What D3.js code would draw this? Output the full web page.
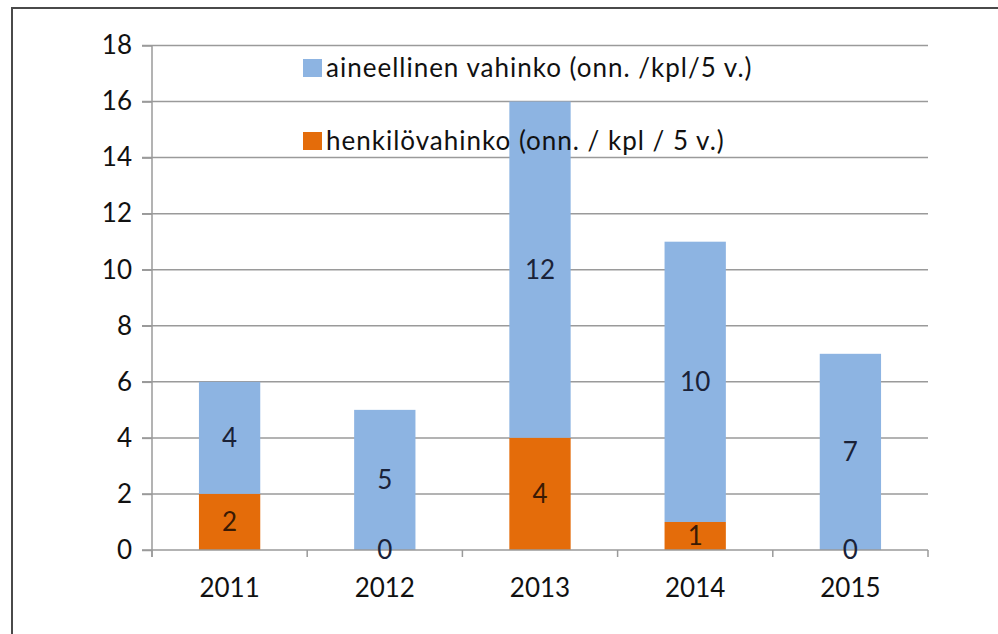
<!DOCTYPE html>
<html>
<head>
<meta charset="utf-8">
<script src="https://cdn.jsdelivr.net/npm/d3@7"></script>
<style>
  html, body { margin: 0; padding: 0; background: #fff; }
  svg { display: block; }
  text { font-family: Lato, "Open Sans", sans-serif; }
</style>
</head>
<body>
<div id="chart"></div>
<script>
// data
var years = ["2011", "2012", "2013", "2014", "2015"];
var henkilo = [2, 0, 4, 1, 0];        // orange, bottom
var aineellinen = [4, 5, 12, 10, 7];  // blue, top
var yTicks = [0, 2, 4, 6, 8, 10, 12, 14, 16, 18];
var seriesNames = ["aineellinen vahinko (onn. /kpl/5 v.)", "henkilövahinko (onn. / kpl / 5 v.)"];

var W = 998, H = 634;
var pLeft = 152, pRight = 928, pTop = 45.5, pBottom = 550;
var blue = "#8db4e2", orange = "#e46c0a";
var gridCol = "#9a9a9a";

var svg = d3.select("#chart").append("svg")
  .attr("width", W)
  .attr("height", H);

// outer frame (only top and left visible)
svg.append("path")
  .attr("d", "M12,634 L12,8 L998,8")
  .attr("fill", "none")
  .attr("stroke", "#4a4a4a")
  .attr("stroke-width", 2);

var x = d3.scaleBand().domain(years).range([pLeft, pRight]).paddingInner(0).paddingOuter(0);
var y = d3.scaleLinear().domain([0, 18]).range([pBottom, pTop]);
var barW = x.bandwidth() * 0.395;

// grid lines
svg.append("g").selectAll("line")
  .data(yTicks.filter(function(d) { return d > 0; }))
  .enter().append("line")
  .attr("x1", pLeft - 10).attr("x2", pRight)
  .attr("y1", function(d) { return y(d); })
  .attr("y2", function(d) { return y(d); })
  .attr("stroke", gridCol)
  .attr("stroke-width", 1.5);

// stacked bars
var stack = years.map(function(yr, i) {
  return { year: yr, h: henkilo[i], a: aineellinen[i] };
});

var bars = svg.append("g");
bars.selectAll("rect.a")
  .data(stack).enter().append("rect")
  .attr("x", function(d) { return x(d.year) + (x.bandwidth() - barW) / 2; })
  .attr("width", barW)
  .attr("y", function(d) { return y(d.h + d.a); })
  .attr("height", function(d) { return y(d.h) - y(d.h + d.a); })
  .attr("fill", blue);

bars.selectAll("rect.h")
  .data(stack).enter().append("rect")
  .attr("x", function(d) { return x(d.year) + (x.bandwidth() - barW) / 2; })
  .attr("width", barW)
  .attr("y", function(d) { return y(d.h); })
  .attr("height", function(d) { return y(0) - y(d.h); })
  .attr("fill", orange);

// axes
var yAxis = svg.append("g")
  .attr("transform", "translate(" + pLeft + ",0)")
  .call(d3.axisLeft(y).tickValues(yTicks).tickSize(10).tickPadding(10));
yAxis.select(".domain").remove();
yAxis.append("line")
  .attr("x1", 0).attr("x2", 0)
  .attr("y1", pTop).attr("y2", pBottom + 7)
  .attr("stroke", gridCol).attr("stroke-width", 1.5);
yAxis.selectAll(".tick line").attr("stroke", gridCol).attr("stroke-width", 1.5);
yAxis.selectAll(".tick text")
  .attr("font-size", 26)
  .attr("font-family", "Lato, sans-serif")
  .attr("fill", "#111");

var xAxis = svg.append("g")
  .attr("transform", "translate(0," + pBottom + ")");
xAxis.append("line")
  .attr("x1", pLeft - 10).attr("x2", pRight)
  .attr("stroke", gridCol).attr("stroke-width", 1.5);
xAxis.selectAll("line.tk")
  .data(d3.range(years.length + 1)).enter().append("line")
  .attr("class", "tk")
  .attr("x1", function(i) { return pLeft + i * x.step(); })
  .attr("x2", function(i) { return pLeft + i * x.step(); })
  .attr("y1", 0).attr("y2", 7)
  .attr("stroke", gridCol).attr("stroke-width", 1.5);
xAxis.selectAll("text")
  .data(years).enter().append("text")
  .attr("x", function(d) { return x(d) + x.bandwidth() / 2; })
  .attr("y", 47)
  .attr("text-anchor", "middle")
  .attr("font-size", 26)
  .attr("fill", "#111")
  .text(function(d) { return d; });

// data labels
var labels = svg.append("g").attr("font-size", 26).attr("text-anchor", "middle");
labels.selectAll("text.a")
  .data(stack).enter().append("text")
  .attr("x", function(d) { return x(d.year) + x.bandwidth() / 2; })
  .attr("y", function(d) { return y(d.h + d.a / 2); })
  .attr("dy", "0.36em")
  .attr("fill", "#1a2238")
  .text(function(d) { return d.a; });
labels.selectAll("text.h")
  .data(stack).enter().append("text")
  .attr("x", function(d) { return x(d.year) + x.bandwidth() / 2; })
  .attr("y", function(d) { return y(d.h / 2); })
  .attr("dy", "0.36em")
  .attr("fill", function(d) { return d.h > 0 ? "#3a1a04" : "#1a2238"; })
  .text(function(d) { return d.h; });

// legend
var legend = svg.append("g").attr("transform", "translate(303,0)");
var legendRows = [
  { name: seriesNames[0], color: blue, y: 77 },
  { name: seriesNames[1], color: orange, y: 150 }
];
legend.selectAll("rect")
  .data(legendRows).enter().append("rect")
  .attr("x", 0).attr("y", function(d) { return d.y - 18; })
  .attr("width", 19).attr("height", 18)
  .attr("fill", function(d) { return d.color; });
legend.selectAll("text")
  .data(legendRows).enter().append("text")
  .attr("x", 23).attr("y", function(d) { return d.y; })
  .attr("font-size", 26)
  .attr("letter-spacing", 1)
  .attr("fill", "#111")
  .text(function(d) { return d.name; });
</script>
</body>
</html>
